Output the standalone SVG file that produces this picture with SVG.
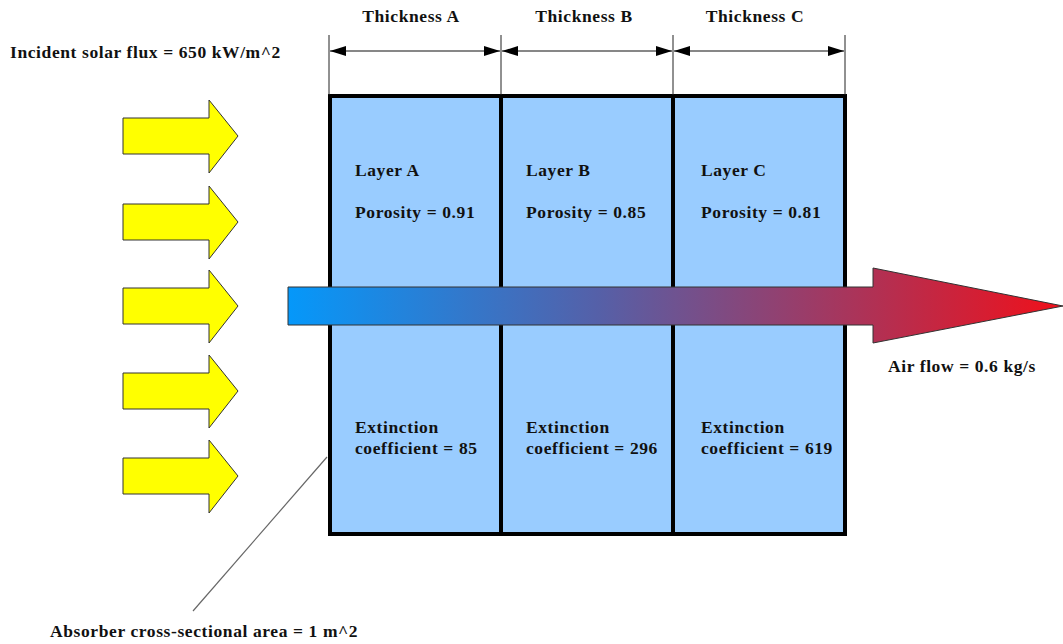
<svg xmlns="http://www.w3.org/2000/svg" width="1063" height="644" viewBox="0 0 1063 644">
  <defs>
    <style>
      text { font-family: "Liberation Serif", "Times New Roman", serif; font-weight: bold; font-size: 17.5px; letter-spacing: 0.6px; fill: #111; }
      .dim { stroke: #111; stroke-width: 1.2; fill: none; }
      .ext { stroke: #222; stroke-width: 1; }
      .layer { fill: #99ccff; stroke: #000; stroke-width: 4; }
      .sun { fill: #ffff00; stroke: #333; stroke-width: 1; }
    </style>
    <marker id="ah" viewBox="0 0 16 10" refX="16" refY="5" markerWidth="16" markerHeight="10" markerUnits="userSpaceOnUse" orient="auto-start-reverse">
      <path d="M0,0 L16,5 L0,10 Z" fill="#000"/>
    </marker>
    <linearGradient id="flow" x1="288" y1="0" x2="1063" y2="0" gradientUnits="userSpaceOnUse">
      <stop offset="0" stop-color="#0598fa"/>
      <stop offset="0.4" stop-color="#5560a8"/>
      <stop offset="1" stop-color="#f0101a"/>
    </linearGradient>
    <path id="sunArrow" d="M0,-18 L86,-18 L86,-36 L115,0 L86,37 L86,18 L0,18 Z"/>
  </defs>

  <!-- absorber layers -->
  <g id="layer-a">
    <rect class="layer" x="330" y="96" width="171" height="438"/>
    <text x="355" y="176">Layer A</text>
    <text x="355" y="218">Porosity = 0.91</text>
    <text x="355" y="433">Extinction</text>
    <text x="355" y="454">coefficient = 85</text>
  </g>
  <g id="layer-b">
    <rect class="layer" x="501" y="96" width="172" height="438"/>
    <text x="526" y="176">Layer B</text>
    <text x="526" y="218">Porosity = 0.85</text>
    <text x="526" y="433">Extinction</text>
    <text x="526" y="454">coefficient = 296</text>
  </g>
  <g id="layer-c">
    <rect class="layer" x="673" y="96" width="172" height="438"/>
    <text x="701" y="176">Layer C</text>
    <text x="701" y="218">Porosity = 0.81</text>
    <text x="701" y="433">Extinction</text>
    <text x="701" y="454">coefficient = 619</text>
  </g>

  <!-- thickness dimensions -->
  <g id="dimensions">
    <line class="ext" x1="329" y1="35" x2="329" y2="95"/>
    <line class="ext" x1="501" y1="35" x2="501" y2="95"/>
    <line class="ext" x1="673" y1="35" x2="673" y2="95"/>
    <line class="ext" x1="845" y1="35" x2="845" y2="95"/>
    <line class="dim" x1="330" y1="51" x2="500" y2="51" marker-start="url(#ah)" marker-end="url(#ah)"/>
    <line class="dim" x1="502" y1="51" x2="672" y2="51" marker-start="url(#ah)" marker-end="url(#ah)"/>
    <line class="dim" x1="674" y1="51" x2="844" y2="51" marker-start="url(#ah)" marker-end="url(#ah)"/>
    <text x="411" y="22" text-anchor="middle">Thickness A</text>
    <text x="584" y="22" text-anchor="middle">Thickness B</text>
    <text x="755" y="22" text-anchor="middle">Thickness C</text>
  </g>

  <!-- incident solar flux -->
  <g id="solar-flux">
    <text x="10" y="58">Incident solar flux = 650 kW/m^2</text>
    <use href="#sunArrow" class="sun" x="123" y="136"/>
    <use href="#sunArrow" class="sun" x="123" y="222"/>
    <use href="#sunArrow" class="sun" x="123" y="306"/>
    <use href="#sunArrow" class="sun" x="123" y="391"/>
    <use href="#sunArrow" class="sun" x="123" y="476"/>
  </g>

  <!-- air flow -->
  <g id="air-flow">
    <path d="M288,287 L873,287 L873,268 L1063,306 L873,343 L873,325 L288,325 Z" fill="url(#flow)" stroke="#333" stroke-width="1"/>
    <text x="888" y="372">Air flow = 0.6 kg/s</text>
  </g>

  <!-- cross-sectional area callout -->
  <g id="connectors">
    <line x1="327" y1="457" x2="193" y2="611" stroke="#666" stroke-width="1.2"/>
  </g>
  <g id="area-label">
    <text x="50" y="637">Absorber cross-sectional area = 1 m^2</text>
  </g>
</svg>
